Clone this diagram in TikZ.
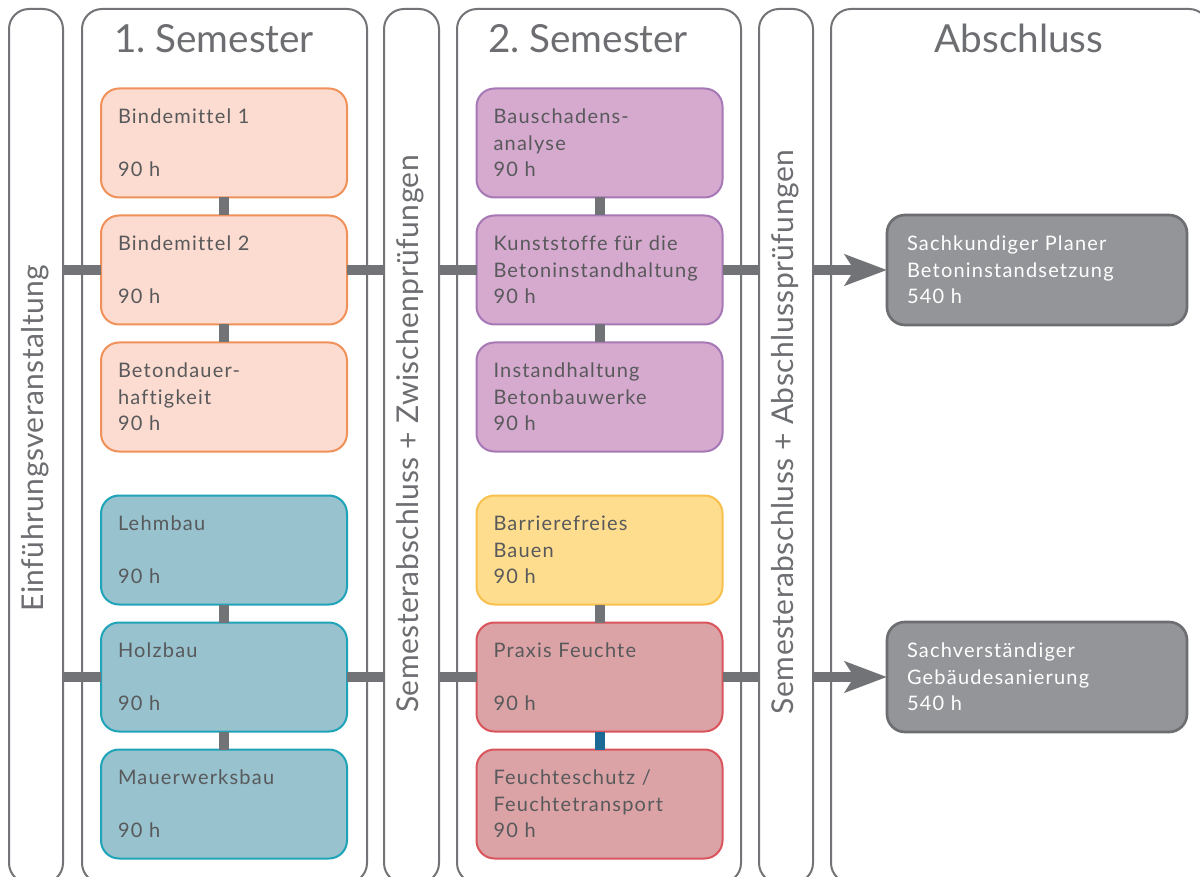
\documentclass[tikz,border=0pt]{standalone}
\usepackage{fontspec}
\setmainfont{Lato}
\newfontfamily\boxfont[LetterSpace=6, Ligatures=CommonOff]{Lato}
\newfontfamily\sidefont[LetterSpace=1.5, Ligatures=CommonOff]{Lato}
\usetikzlibrary{arrows.meta,positioning}
\definecolor{framegray}{HTML}{737477}
\definecolor{bargray}{HTML}{727376}
\definecolor{txtgray}{HTML}{58595B}
\definecolor{headgray}{HTML}{6D6E71}
\definecolor{orangefill}{HTML}{FCDBD0}
\definecolor{orangeline}{HTML}{F0915A}
\definecolor{tealfill}{HTML}{98C2CE}
\definecolor{tealline}{HTML}{1FA3B8}
\definecolor{purplefill}{HTML}{D6A9CF}
\definecolor{purpleline}{HTML}{A678B5}
\definecolor{yellowfill}{HTML}{FFDD8E}
\definecolor{yellowline}{HTML}{F8C04C}
\definecolor{redfill}{HTML}{DCA3A6}
\definecolor{redline}{HTML}{D9545B}
\definecolor{finalfill}{HTML}{939598}
\definecolor{finalline}{HTML}{6D6E71}
\definecolor{linkblue}{HTML}{1E6A96}
\newdimen\boxgap
\newdimen\blockgap
\boxgap=13.5pt
\blockgap=33pt
\tikzstyle{frame}=[
  draw=framegray,
  line width=1.5pt,
  rounded corners=15pt,
  anchor=north west,
  minimum height=655.5pt,
]
\tikzstyle{module}=[
  rectangle,
  rounded corners=13.5pt,
  line width=1.5pt,
  outer sep=0pt,
  minimum width=184.5pt,
  minimum height=81.75pt,
  text width=159pt,
  inner xsep=12.75pt,
  align=left,
  text=txtgray,
  font=\boxfont\fontsize{15}{19.9}\selectfont,
]
\tikzstyle{link}=[
  draw=bargray,
  line width=7.5pt,
]
\tikzset{
  node distance=\boxgap,
  orange/.style={module, fill=orangefill, draw=orangeline},
  teal/.style={module, fill=tealfill, draw=tealline},
  purple/.style={module, fill=purplefill, draw=purpleline},
  yellow/.style={module, fill=yellowfill, draw=yellowline},
  red/.style={module, fill=redfill, draw=redline},
  final/.style={module, fill=finalfill, draw=finalline, line width=2pt,
    minimum width=225pt, minimum height=82.5pt, text width=195pt,
    inner xsep=15pt, text=white},
  head/.style={anchor=base, text=headgray, font=\fontsize{29}{34}\selectfont},
  vlabel/.style={rotate=90, text=headgray, font=\sidefont\fontsize{22.5}{26}\selectfont},
  toarrow/.style={link, -{Stealth[length=31.5pt, width=23pt, inset=7pt]}},
}

\begin{document}
\begin{tikzpicture}[x=0.75pt, y=-0.75pt]
  \fill[white, use as bounding box] (0,0) rectangle (1200,877);
  \clip (0,0) rectangle (1200,877);

  % columns
  \node[frame, minimum width=40.5pt] (intro) at (8,8) {};
  \node[frame, minimum width=213.75pt] (sem1) at (81,8) {};
  \node[frame, minimum width=41.25pt] (midexam) at (383,8) {};
  \node[frame, minimum width=213pt] (sem2) at (456,8) {};
  \node[frame, minimum width=40.5pt] (endexam) at (758,8) {};
  \node[frame, minimum width=283.5pt] (abschluss) at (830,8) {};

  \node[head] at (214,53) {1.\ Semester};
  \node[head] at (588,53) {2.\ Semester};
  \node[head] at (1019,53) {Abschluss};

  \node[vlabel] at (35,438) {Einführungsveranstaltung};
  \node[vlabel] at (410.5,434) {Semesterabschluss + Zwischenprüfungen};
  \node[vlabel] at (785,432) {Semesterabschluss + Abschlussprüfungen};

  % 1. Semester
  \node[orange] (bm1) at (224,143) {Bindemittel 1\\~\\90 h};
  \node[orange, below=of bm1] (bm2) {Bindemittel 2\\~\\90 h};
  \node[orange, below=of bm2] (bd) {Betondauer-\\haftigkeit\\90 h};
  \node[teal, below=\blockgap of bd] (lehm) {Lehmbau\\~\\90 h};
  \node[teal, below=of lehm] (holz) {Holzbau\\~\\90 h};
  \node[teal, below=of holz] (mauer) {Mauerwerksbau\\~\\90 h};

  % 2. Semester
  \node[purple] (baus) at (599.5,143) {Bauschadens-\\analyse\\90 h};
  \node[purple, below=of baus] (kunst) {Kunststoffe für die\\Betoninstandhaltung\\90 h};
  \node[purple, below=of kunst] (inst) {Instandhaltung\\Betonbauwerke\\90 h};
  \node[yellow, below=\blockgap of inst] (barr) {Barrierefreies\\Bauen\\90 h};
  \node[red, below=of barr] (praxis) {Praxis Feuchte\\~\\90 h};
  \node[red, below=of praxis] (feucht) {Feuchteschutz /\\Feuchtetransport\\90 h};

  % Abschluss
  \node[final] (planer) at (1037,270) {Sachkundiger Planer\\Betoninstandsetzung\\540 h};
  \node[final] (sv) at (1037,677) {Sachverständiger\\Gebäudesanierung\\540 h};

  % links
  \draw[link] (bm1) -- (bm2);
  \draw[link] (bm2) -- (bd);
  \draw[link] (lehm) -- (holz);
  \draw[link] (holz) -- (mauer);
  \draw[link] (baus) -- (kunst);
  \draw[link] (kunst) -- (inst);
  \draw[link] (barr) -- (praxis);
  \draw[link, draw=linkblue] (praxis) -- (feucht);

  \draw[link] (intro.east |- bm2.west) -- (bm2.west);
  \draw[link] (bm2.east) -- (bm2.east -| midexam.west);
  \draw[link] (midexam.east |- kunst.west) -- (kunst.west);
  \draw[link] (kunst.east) -- (kunst.east -| endexam.west);
  \draw[toarrow] (endexam.east |- planer.west) -- (planer.west);

  \draw[link] (intro.east |- holz.west) -- (holz.west);
  \draw[link] (holz.east) -- (holz.east -| midexam.west);
  \draw[link] (midexam.east |- praxis.west) -- (praxis.west);
  \draw[link] (praxis.east) -- (praxis.east -| endexam.west);
  \draw[toarrow] (endexam.east |- sv.west) -- (sv.west);
\end{tikzpicture}
\end{document}
